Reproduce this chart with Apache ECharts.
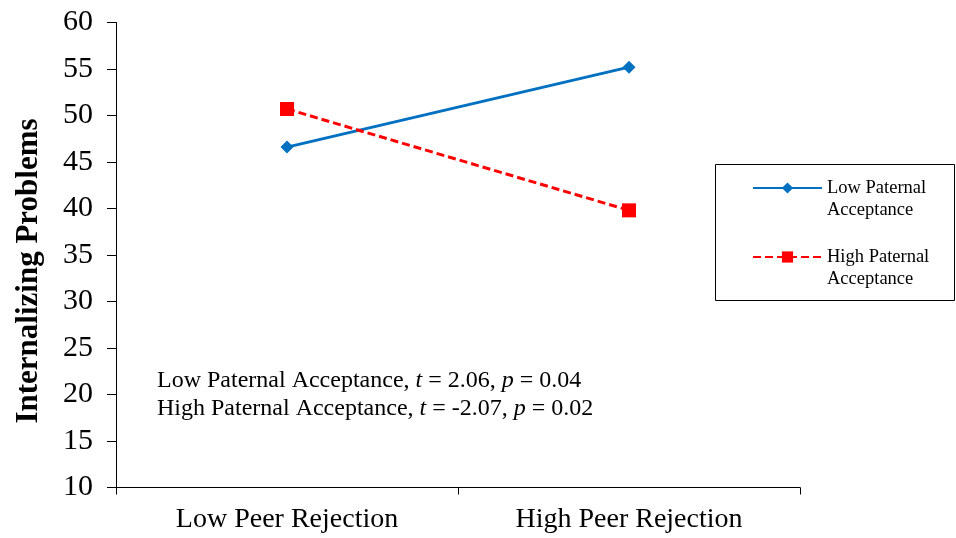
<!DOCTYPE html>
<html>
<head>
<meta charset="utf-8">
<script src="https://cdn.jsdelivr.net/npm/echarts@6/dist/echarts.min.js"></script>
<style>
  html, body { margin: 0; padding: 0; background: #fff; }
  #chart { width: 956px; height: 538px; }
</style>
</head>
<body>
<div id="chart"></div>
<script>
// Peer rejection x paternal acceptance interaction on internalizing problems
const categories = ['Low Peer Rejection', 'High Peer Rejection'];
const lowPaternal = [46.6, 55.2];
const highPaternal = [50.7, 39.8];
const seriesNames = ['Low Paternal Acceptance', 'High Paternal Acceptance'];
const yTicks = { min: 10, max: 60, step: 5 };

const serif = 'Liberation Serif';
const chart = echarts.init(document.getElementById('chart'));

chart.setOption({
  backgroundColor: '#ffffff',
  animation: false,
  grid: { left: 116, right: 156, top: 22.5, bottom: 50.5, outerBoundsMode: 'none', containLabel: false },
  xAxis: {
    type: 'category',
    data: categories,
    boundaryGap: true,
    axisLine: { lineStyle: { color: '#000', width: 1 } },
    axisTick: { show: true, length: 7, lineStyle: { color: '#000' } },
    axisLabel: { color: '#000', fontFamily: serif, fontSize: 28, margin: 18 }
  },
  yAxis: {
    type: 'value',
    min: yTicks.min,
    max: yTicks.max,
    interval: yTicks.step,
    name: 'Internalizing Problems',
    nameLocation: 'middle',
    nameRotate: 90,
    nameGap: 72,
    // title sits a little below the axis midpoint
    nameTextStyle: {
      color: '#000', fontFamily: serif, fontSize: 31, fontWeight: 'bold',
      padding: [0, 32, 0, 0]
    },
    axisLine: { show: true, lineStyle: { color: '#000', width: 1 } },
    axisTick: { show: true, length: 9, lineStyle: { color: '#000' } },
    splitLine: { show: false },
    axisLabel: { color: '#000', fontFamily: serif, fontSize: 30, margin: 23 }
  },
  legend: {
    orient: 'vertical',
    left: 752,
    top: 155,
    padding: 0,
    itemWidth: 69,
    itemHeight: 14,
    itemGap: 3,
    // the leading blank line keeps the first text line level with the icon
    formatter: name => '\n' + name.replace(' Acceptance', '\nAcceptance'),
    textStyle: {
      color: '#000', fontFamily: serif, fontSize: 18.5, lineHeight: 22
    }
  },
  graphic: [
    {
      type: 'rect',
      shape: { x: 715.5, y: 164.5, width: 239, height: 136 },
      style: { fill: 'none', stroke: '#000', lineWidth: 1 },
      silent: true
    },
    {
      type: 'text',
      left: 157,
      top: 367,
      style: {
        text: 'Low Paternal Acceptance, {i|t} = 2.06, {i|p} = 0.04\nHigh Paternal Acceptance, {i|t} = -2.07, {i|p} = 0.02',
        fontFamily: serif,
        fontSize: 24,
        lineHeight: 28,
        fill: '#000',
        rich: {
          i: { fontFamily: serif, fontSize: 24, fontStyle: 'italic', lineHeight: 28, fill: '#000' }
        }
      }
    }
  ],
  series: [
    {
      name: seriesNames[0],
      type: 'line',
      data: lowPaternal,
      symbol: 'diamond',
      symbolSize: 13,
      itemStyle: { color: '#0070C0' },
      lineStyle: { color: '#0070C0', width: 3 }
    },
    {
      name: seriesNames[1],
      type: 'line',
      data: highPaternal,
      symbol: 'rect',
      symbolSize: 14,
      itemStyle: { color: '#FF0000' },
      lineStyle: { color: '#FF0000', width: 3, type: [8, 4] }
    }
  ]
});
</script>
</body>
</html>
